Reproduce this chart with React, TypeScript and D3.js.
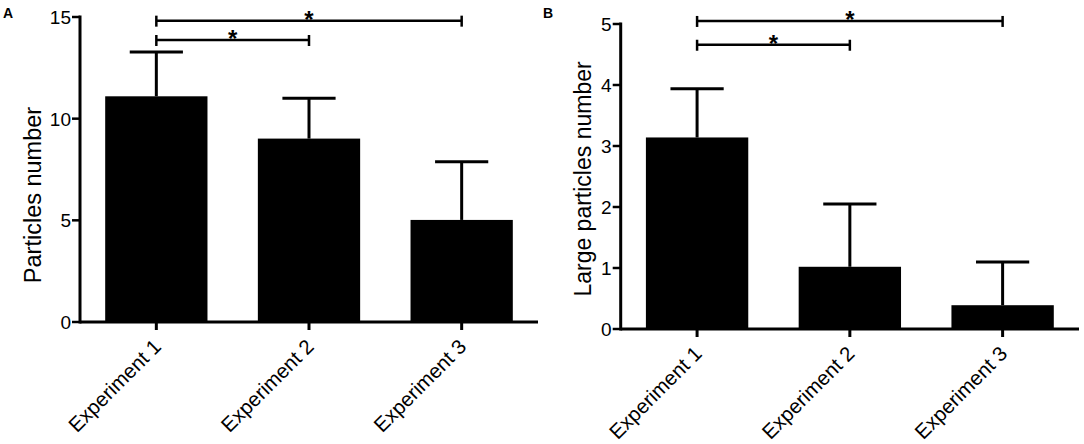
import React from "react";
import * as d3 from "d3";

const categories = ["Experiment 1", "Experiment 2", "Experiment 3"];

const particlesMean = [11.1, 9.02, 5.02];
const particlesErr = [2.18, 1.98, 2.86];
const particlesTicks = [0, 5, 10, 15];

const largeMean = [3.14, 1.02, 0.39];
const largeErr = [0.8, 1.03, 0.71];
const largeTicks = [0, 1, 2, 3, 4, 5];

// significance brackets: [fromIndex, toIndex, level (data units)]
const particlesBrackets: [number, number, number][] = [
  [0, 2, 14.82],
  [0, 1, 13.87],
];
const largeBrackets: [number, number, number][] = [
  [0, 2, 5.05],
  [0, 1, 4.66],
];

const FONT = "'Liberation Sans', Arial, Helvetica, sans-serif";

type PanelProps = {
  letter: string;
  letterX: number;
  title: string;
  titleX: number;
  titleY: number;
  titleSize: number;
  left: number;
  right: number;
  top: number;
  bottom: number;
  yMax: number;
  ticks: number[];
  means: number[];
  errs: number[];
  brackets: [number, number, number][];
};

function Panel(p: PanelProps) {
  const x = d3
    .scaleBand<string>()
    .domain(categories)
    .range([p.left, p.right])
    .paddingInner(0.33)
    .paddingOuter(0.165);
  const y = d3.scaleLinear().domain([0, p.yMax]).range([p.bottom, p.top]);
  const bw = x.bandwidth();
  const cx = (c: string) => (x(c) as number) + bw / 2;
  const capHalf = bw * 0.26;

  return (
    <g>
      <text
        x={p.letterX}
        y={18}
        fontFamily={FONT}
        fontWeight="bold"
        fontSize={14}
        fill="#000"
      >
        {p.letter}
      </text>
      {/* bars */}
      {categories.map((c, i) => (
        <rect
          key={"b" + c}
          x={x(c)}
          y={y(p.means[i])}
          width={bw}
          height={p.bottom - y(p.means[i])}
          fill="#000"
        />
      ))}
      {/* error bars */}
      {categories.map((c, i) => {
        const yt = y(p.means[i] + p.errs[i]);
        return (
          <g key={"e" + c} stroke="#000" strokeWidth={3}>
            <line x1={cx(c)} x2={cx(c)} y1={y(p.means[i])} y2={yt} />
            <line x1={cx(c) - capHalf} x2={cx(c) + capHalf} y1={yt} y2={yt} />
          </g>
        );
      })}
      {/* y axis */}
      <line
        x1={p.left}
        x2={p.left}
        y1={p.top - 1.5}
        y2={p.bottom + 1.5}
        stroke="#000"
        strokeWidth={3}
      />
      {p.ticks.map((t) => (
        <g key={"yt" + t}>
          <line
            x1={p.left - 8}
            x2={p.left}
            y1={y(t)}
            y2={y(t)}
            stroke="#000"
            strokeWidth={2.5}
          />
          <text
            x={p.left - 9}
            y={y(t)}
            dy="0.36em"
            textAnchor="end"
            fontFamily={FONT}
            fontSize={19}
            fill="#000"
          >
            {t}
          </text>
        </g>
      ))}
      {/* x axis */}
      <line
        x1={p.left}
        x2={p.right}
        y1={p.bottom}
        y2={p.bottom}
        stroke="#000"
        strokeWidth={3}
      />
      {categories.map((c) => (
        <g key={"xt" + c}>
          <line
            x1={cx(c)}
            x2={cx(c)}
            y1={p.bottom}
            y2={p.bottom + 8}
            stroke="#000"
            strokeWidth={3}
          />
          <text
            transform={`translate(${cx(c) + 6},${p.bottom + 26}) rotate(-45)`}
            textAnchor="end"
            fontFamily={FONT}
            fontSize={20.5}
            fill="#000"
          >
            {c}
          </text>
        </g>
      ))}
      {/* axis title */}
      <text
        transform={`translate(${p.titleX},${p.titleY}) rotate(-90)`}
        textAnchor="middle"
        fontFamily={FONT}
        fontSize={p.titleSize}
        fill="#000"
      >
        {p.title}
      </text>
      {/* significance brackets */}
      {p.brackets.map(([a, b, lvl], k) => {
        const x1 = cx(categories[a]);
        const x2 = cx(categories[b]);
        const yy = y(lvl);
        return (
          <g key={"br" + k}>
            <line x1={x1} x2={x2} y1={yy} y2={yy} stroke="#000" strokeWidth={2.5} />
            <line x1={x1} x2={x1} y1={yy - 5} y2={yy + 6} stroke="#000" strokeWidth={2.5} />
            <line x1={x2} x2={x2} y1={yy - 5} y2={yy + 6} stroke="#000" strokeWidth={2.5} />
            <text
              x={(x1 + x2) / 2}
              y={yy + 7}
              textAnchor="middle"
              fontFamily={FONT}
              fontWeight="bold"
              fontSize={24}
              fill="#000"
            >
              *
            </text>
          </g>
        );
      })}
    </g>
  );
}

export default function App() {
  return (
    <svg
      width={1084}
      height={444}
      style={{ position: "absolute", left: 0, top: 0, background: "#fff" }}
    >
      <rect x={0} y={0} width={1084} height={444} fill="#fff" />
      <Panel
        letter="A"
        letterX={3}
        title="Particles number"
        titleX={41}
        titleY={195}
        titleSize={23.5}
        left={80}
        right={538}
        top={17}
        bottom={322}
        yMax={15}
        ticks={particlesTicks}
        means={particlesMean}
        errs={particlesErr}
        brackets={particlesBrackets}
      />
      <Panel
        letter="B"
        letterX={543}
        title="Large particles number"
        titleX={591}
        titleY={179}
        titleSize={23}
        left={620.7}
        right={1079}
        top={24}
        bottom={329}
        yMax={5}
        ticks={largeTicks}
        means={largeMean}
        errs={largeErr}
        brackets={largeBrackets}
      />
    </svg>
  );
}
